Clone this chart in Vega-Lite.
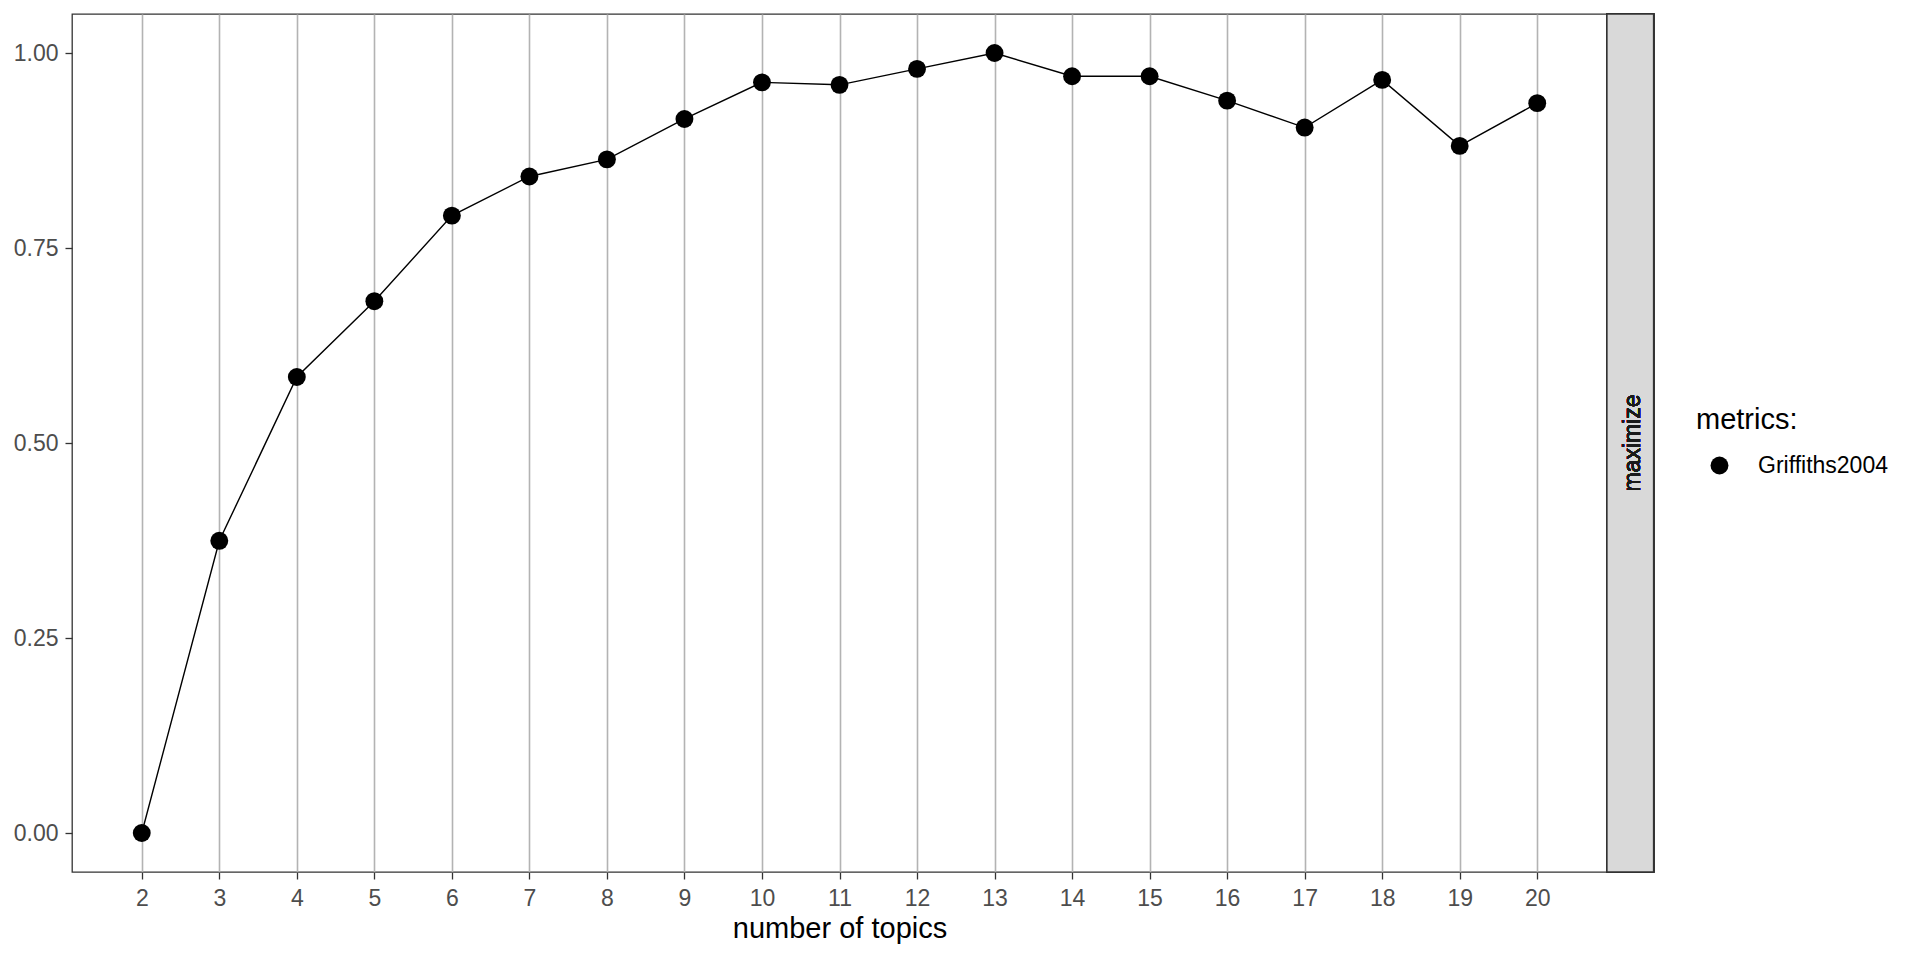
{
  "$schema": "https://vega.github.io/schema/vega-lite/v6.json",
  "width": 1535,
  "height": 858,
  "autosize": {"type": "none"},
  "padding": {"left": 72, "top": 14, "right": 313, "bottom": 88},
  "background": "white",
  "config": {
    "font": "Liberation Sans",
    "view": {"stroke": "#333333", "strokeWidth": 1.3},
    "axis": {
      "labelFont": "Liberation Sans",
      "titleFont": "Liberation Sans",
      "labelFontSize": 23,
      "labelColor": "#4D4D4D",
      "tickColor": "#333333",
      "tickSize": 7,
      "tickWidth": 1.3,
      "domain": false
    }
  },
  "data": {
    "values": [
      {"topics": 2, "value": 0.0, "metrics": "Griffiths2004"},
      {"topics": 3, "value": 0.3746, "metrics": "Griffiths2004"},
      {"topics": 4, "value": 0.5846, "metrics": "Griffiths2004"},
      {"topics": 5, "value": 0.6818, "metrics": "Griffiths2004"},
      {"topics": 6, "value": 0.7915, "metrics": "Griffiths2004"},
      {"topics": 7, "value": 0.8417, "metrics": "Griffiths2004"},
      {"topics": 8, "value": 0.8636, "metrics": "Griffiths2004"},
      {"topics": 9, "value": 0.9154, "metrics": "Griffiths2004"},
      {"topics": 10, "value": 0.9624, "metrics": "Griffiths2004"},
      {"topics": 11, "value": 0.9592, "metrics": "Griffiths2004"},
      {"topics": 12, "value": 0.9796, "metrics": "Griffiths2004"},
      {"topics": 13, "value": 1.0, "metrics": "Griffiths2004"},
      {"topics": 14, "value": 0.9702, "metrics": "Griffiths2004"},
      {"topics": 15, "value": 0.9702, "metrics": "Griffiths2004"},
      {"topics": 16, "value": 0.9389, "metrics": "Griffiths2004"},
      {"topics": 17, "value": 0.9044, "metrics": "Griffiths2004"},
      {"topics": 18, "value": 0.9655, "metrics": "Griffiths2004"},
      {"topics": 19, "value": 0.8809, "metrics": "Griffiths2004"},
      {"topics": 20, "value": 0.9357, "metrics": "Griffiths2004"}
    ]
  },
  "encoding": {
    "x": {
      "field": "topics",
      "type": "quantitative",
      "scale": {"domain": [1.1, 20.9], "nice": false, "zero": false},
      "axis": {
        "values": [2,3,4,5,6,7,8,9,10,11,12,13,14,15,16,17,18,19,20],
        "grid": true,
        "gridColor": "#B3B3B3",
        "gridWidth": 1.6,
        "labelPadding": 8,
        "title": "number of topics",
        "titleFontSize": 29,
        "titleFontWeight": "normal",
        "titleColor": "#000000",
        "titlePadding": 4
      }
    },
    "y": {
      "field": "value",
      "type": "quantitative",
      "scale": {"domain": [-0.05, 1.05], "nice": false, "zero": false},
      "axis": {
        "values": [0, 0.25, 0.5, 0.75, 1],
        "format": ".2f",
        "grid": false,
        "labelPadding": 7,
        "title": null
      }
    }
  },
  "layer": [
    {
      "mark": {"type": "rect", "fill": "#D9D9D9", "stroke": "#333333", "strokeWidth": 1.3},
      "encoding": {
        "x": {"datum": 20.9},
        "x2": {"datum": 21.5},
        "y": {"datum": -0.05},
        "y2": {"datum": 1.05}
      }
    },
    {
      "mark": {"type": "text", "text": "maximize", "angle": 270, "fontSize": 23, "color": "#1A1A1A", "align": "center", "baseline": "middle", "font": "Liberation Sans"},
      "encoding": {
        "x": {"datum": 21.23},
        "y": {"datum": 0.5}
      }
    },
    {
      "mark": {"type": "line", "color": "#000000", "strokeWidth": 1.4}
    },
    {
      "mark": {"type": "point", "filled": true, "shape": "circle", "size": 320, "opacity": 1},
      "encoding": {
        "color": {
          "field": "metrics",
          "type": "nominal",
          "scale": {"range": ["#000000"]},
          "legend": {
            "title": "metrics:",
            "orient": "none",
            "legendX": 1624,
            "legendY": 392,
            "padding": 0,
            "titleFont": "Liberation Sans",
            "titleFontSize": 29,
            "titleFontWeight": "normal",
            "titleColor": "#000000",
            "titlePadding": 19,
            "labelFont": "Liberation Sans",
            "labelFontSize": 23,
            "labelColor": "#000000",
            "labelOffset": 27,
            "symbolType": "circle",
            "symbolSize": 320,
            "symbolOffset": 12,
            "symbolStrokeWidth": 0
          }
        }
      }
    }
  ]
}
